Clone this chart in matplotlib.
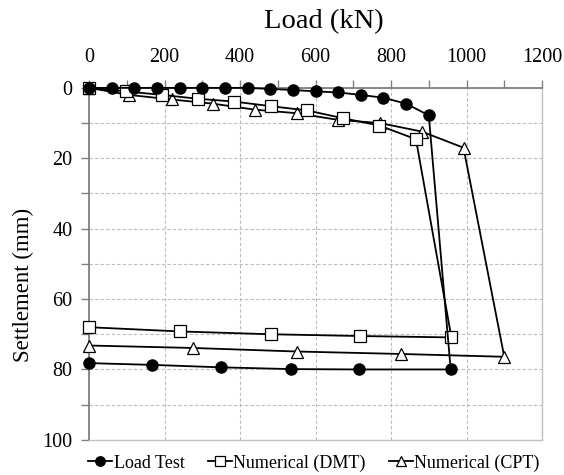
import matplotlib
matplotlib.use("Agg")
import matplotlib.pyplot as plt
from matplotlib.ticker import MultipleLocator

plt.rcParams['font.family'] = ['Liberation Serif', 'DejaVu Serif']

# Load test (loading then unloading)
lt_load = [0, 60, 120, 180, 240, 300, 360, 420, 480, 540, 600, 660, 720, 780, 840, 900,
           958, 715, 535, 350, 167, 0]
lt_settle = [0, 0, 0, 0, 0, 0, 0, 0, 0.3, 0.6, 1.0, 1.3, 2.0, 2.8, 4.5, 7.8,
             80.0, 80.0, 79.9, 79.4, 78.7, 78.2]

# Numerical (DMT)
dmt_load = [0, 97, 193, 289, 385, 481, 577, 672, 769, 866,
            960, 717, 481, 241, 0]
dmt_settle = [0, 1.0, 2.0, 3.1, 3.9, 5.2, 6.4, 8.6, 10.7, 14.6,
              70.9, 70.5, 70.0, 69.2, 68.0]

# Numerical (CPT)
cpt_load = [0, 106, 219, 329, 440, 550, 660, 771, 881, 992,
            1100, 826, 550, 276, 0]
cpt_settle = [0, 2.0, 3.3, 4.5, 6.2, 7.2, 9.1, 10.0, 12.4, 17.0,
              76.4, 75.6, 74.9, 73.9, 73.2]

fig = plt.figure(figsize=(5.64, 4.75), dpi=100)
ax = fig.add_axes([0.158, 0.074, 0.803, 0.741])

lw = 1.3
ax.plot(lt_load, lt_settle, color='black', lw=lw, marker='o', ms=8,
        mfc='black', mec='black', label='Load Test', zorder=5, clip_on=False)
ax.plot(dmt_load, dmt_settle, color='black', lw=lw, marker='s', ms=8,
        mfc='white', mec='black', mew=0.9, label='Numerical (DMT)', zorder=4, clip_on=False)
ax.plot(cpt_load, cpt_settle, color='black', lw=lw, marker='^', ms=8.5,
        mfc='white', mec='black', mew=0.9, label='Numerical (CPT)', zorder=3, clip_on=False)

ax.set_xlim(0, 1200)
ax.set_ylim(100, 0)
ax.xaxis.set_major_locator(MultipleLocator(200))
ax.xaxis.set_minor_locator(MultipleLocator(100))
ax.yaxis.set_major_locator(MultipleLocator(20))
ax.yaxis.set_minor_locator(MultipleLocator(10))
ax.xaxis.tick_top()
ax.xaxis.set_label_position('top')

ax.grid(True, which='major', axis='x', ls=(0, (3, 2)), color='#bdbdbd', lw=0.8)
ax.grid(True, which='both', axis='y', ls=(0, (3, 2)), color='#bdbdbd', lw=0.8)
ax.set_axisbelow(True)

for s in ['left', 'top']:
    ax.spines[s].set_color('#808080')
    ax.spines[s].set_linewidth(1.3)
for s in ['right', 'bottom']:
    ax.spines[s].set_color('#c0c0c0')
    ax.spines[s].set_linewidth(1.0)

ax.tick_params(axis='both', which='both', direction='out', color='#808080', width=1.0,
               labelsize=14.5)
ax.tick_params(axis='both', which='major', length=6)
ax.tick_params(axis='both', which='minor', length=6)
ax.tick_params(axis='x', which='major', pad=9)
ax.tick_params(axis='y', which='major', pad=6)

ax.set_xlabel('Load (kN)', fontsize=20.5, labelpad=14, x=0.518)
ax.set_ylabel('Settlement (mm)', fontsize=16.5)
ax.yaxis.set_label_coords(-0.122, 0.44)

fig.legend(loc='center', bbox_to_anchor=(0.557, 0.025), ncol=3, frameon=False,
           fontsize=13, handlelength=1.3, handletextpad=0.1, columnspacing=1.3,
           markerscale=0.85)

fig.savefig('out.png', dpi=100)
